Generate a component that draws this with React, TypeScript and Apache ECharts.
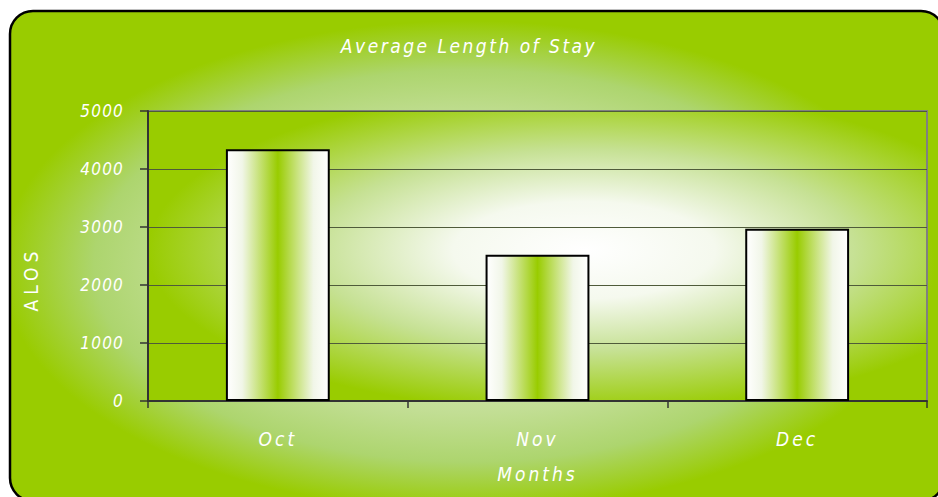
import React, { useEffect, useRef } from 'react';
import * as echarts from 'echarts';

const chartTitle = 'Average Length of Stay';
const categories = ['Oct', 'Nov', 'Dec'];
const alosValues = [4340, 2520, 2970];
const yAxisTitle = 'ALOS';
const xAxisTitle = 'Months';
const yMin = 0;
const yMax = 5000;
const yInterval = 1000;

const FONT = '"Liberation Sans Narrow", "DejaVu Sans Condensed", "Arial Narrow", sans-serif';

export default function App() {
  const ref = useRef<HTMLDivElement>(null);
  useEffect(() => {
    const el = ref.current!;
    const chart = echarts.init(el, null, { renderer: 'svg' });
    const txt = { color: '#ffffff', fontStyle: 'italic', fontFamily: FONT, fontWeight: 'normal' };

    const applySpacing = () => {
      el.querySelectorAll('text').forEach((t) => {
        const s = t.textContent || '';
        let sp = 3;
        if (/^\d+$/.test(s)) sp = 1.2;
        else if (s === chartTitle) sp = 2.5;
        else if (s === xAxisTitle) sp = 3;
        else if (s === yAxisTitle) sp = 5;
        t.setAttribute('letter-spacing', String(sp));
      });
    };
    chart.on('finished', applySpacing);

    chart.setOption({
      animation: false,
      title: {
        text: chartTitle,
        left: 'center',
        top: 31,
        textStyle: { ...txt, fontSize: 19 },
      },
      graphic: [
        {
          type: 'rect',
          z: -100,
          silent: true,
          shape: { x: 10, y: 11, width: 934, height: 490, r: 23 },
          style: {
            fill: new echarts.graphic.RadialGradient(0.49, 0.52, 0.5, [
              { offset: 0, color: '#f0f6e4' },
              { offset: 0.6, color: '#c2de94' },
              { offset: 0.8, color: '#add56e' },
              { offset: 1, color: '#99cc00' },
            ]),
            stroke: '#000000',
            lineWidth: 2.5,
          },
        },
        {
          type: 'text',
          silent: true,
          x: 31,
          y: 279,
          rotation: Math.PI / 2,
          style: {
            text: yAxisTitle,
            fill: '#ffffff',
            font: `normal normal 19px ${FONT}`,
            align: 'center',
            verticalAlign: 'middle',
          },
        },
      ],
      grid: {
        left: 148,
        top: 111,
        right: 11,
        bottom: 96,
        show: true,
        borderColor: '#808080',
        borderWidth: 2,
        backgroundColor: new echarts.graphic.RadialGradient(0.56, 0.48, 0.56, [
          { offset: 0, color: '#ffffff' },
          { offset: 0.3, color: '#f5f9ee' },
          { offset: 0.62, color: '#c6e194' },
          { offset: 1, color: '#99cc00' },
        ]),
      },
      xAxis: {
        type: 'category',
        data: categories,
        name: xAxisTitle,
        nameLocation: 'middle',
        nameGap: 63,
        nameTextStyle: { ...txt, fontSize: 19 },
        axisLine: { show: true, lineStyle: { color: '#333333', width: 2 } },
        axisTick: { show: true, length: 7, lineStyle: { color: '#333333', width: 1.5 } },
        axisLabel: { ...txt, fontSize: 19, margin: 28 },
      },
      yAxis: {
        type: 'value',
        min: yMin,
        max: yMax,
        interval: yInterval,
        axisLine: { show: true, lineStyle: { color: '#333333', width: 2 } },
        axisTick: { show: true, length: 8, lineStyle: { color: '#333333', width: 1.5 } },
        axisLabel: { ...txt, fontSize: 17, margin: 24, formatter: (v: number) => String(v) },
        splitLine: { show: true, lineStyle: { color: '#4f5b3a', width: 1.2 } },
      },
      series: [
        {
          type: 'bar',
          data: alosValues,
          barWidth: '40%',
          itemStyle: {
            color: new echarts.graphic.LinearGradient(0, 0, 1, 0, [
              { offset: 0, color: '#ffffff' },
              { offset: 0.15, color: '#f1f6e8' },
              { offset: 0.5, color: '#99cc00' },
              { offset: 0.85, color: '#f1f6e8' },
              { offset: 1, color: '#ffffff' },
            ]),
            borderColor: '#000000',
            borderWidth: 2,
          },
        },
      ],
    });
    applySpacing();
    return () => {
      chart.dispose();
    };
  }, []);
  return (
    <div
      ref={ref}
      style={{ position: 'absolute', left: 0, top: 0, width: 938, height: 497 }}
    />
  );
}
